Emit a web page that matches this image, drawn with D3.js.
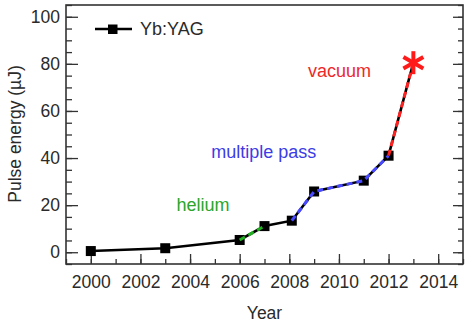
<!DOCTYPE html>
<html><head><meta charset="utf-8">
<script src="https://cdn.jsdelivr.net/npm/d3@7"></script>
<style>
html,body{margin:0;padding:0;background:#fff;}
svg{display:block;font-family:"Liberation Sans",Arial,sans-serif;}
</style></head>
<body><svg id="c" width="468" height="325"></svg>
<script>
// data
const years = [2000, 2003, 2006, 2007, 2008.1, 2009, 2011, 2012];
const energy = [0.5, 1.7, 5.2, 11.1, 13.4, 25.8, 30.4, 41];
const starYear = 2013;
const starEnergy = 80.5;
const segments = [
  {name: "helium", from: 2, to: 3, color: "#22b022"},
  {name: "multiple pass", from: 4, to: 7, color: "#4848ff"},
  {name: "vacuum", from: 7, to: 8, color: "#ff2020"}
];
const annotations = [
  {text: "helium", year: 2003.45, value: 17.5, color: "#2aa62a"},
  {text: "multiple pass", year: 2004.85, value: 40, color: "#3c3ce6"},
  {text: "vacuum", year: 2008.75, value: 74.5, color: "#ee2828"}
];
const xMajor = [2000, 2002, 2004, 2006, 2008, 2010, 2012, 2014];
const xMinor = d3.range(1999, 2016, 1);
const yMajor = [0, 20, 40, 60, 80, 100];
const yMinor = d3.range(-5, 106, 5);
const legendLabel = "Yb:YAG";

const svg = d3.select("#c");
const L = 66, R = 463, T = 5, B = 264;
const x = d3.scaleLinear().domain([1999, 2015]).range([L, R]);
const y = d3.scaleLinear().domain([-5, 105]).range([B, T]);
const fs = 17.5, fa = 18, tc = "#2a2a2a";

// minor ticks
svg.append("g").attr("transform", `translate(0,${B})`)
  .call(d3.axisBottom(x).tickValues(xMinor).tickSize(-5).tickFormat(""))
  .call(g => g.select(".domain").remove());
svg.append("g").attr("transform", `translate(${L},0)`)
  .call(d3.axisLeft(y).tickValues(yMinor).tickSize(-6).tickFormat(""))
  .call(g => g.select(".domain").remove());
svg.append("g").attr("transform", `translate(${R},0)`)
  .call(d3.axisRight(y).tickValues(yMinor).tickSize(-5).tickFormat(""))
  .call(g => g.select(".domain").remove());
// major ticks
svg.append("g").attr("transform", `translate(0,${B})`)
  .call(d3.axisBottom(x).tickValues(xMajor).tickSize(-10).tickPadding(12).tickFormat(d3.format("d")))
  .call(g => g.select(".domain").remove());
svg.append("g").attr("transform", `translate(${L},0)`)
  .call(d3.axisLeft(y).tickValues(yMajor).tickSize(-12).tickPadding(6))
  .call(g => g.select(".domain").remove());
svg.append("g").attr("transform", `translate(${R},0)`)
  .call(d3.axisRight(y).tickValues(yMajor).tickSize(-10).tickFormat(""))
  .call(g => g.select(".domain").remove());
svg.selectAll(".tick line").attr("stroke", "#333").attr("stroke-width", 1.3);
svg.selectAll(".tick text").attr("font-size", fs).attr("fill", tc).attr("font-family", "Liberation Sans, Arial, sans-serif");

// frame
svg.append("rect").attr("x", L).attr("y", T).attr("width", R - L).attr("height", B - T)
  .attr("fill", "none").attr("stroke", "#333").attr("stroke-width", 1.6);

// axis titles
svg.append("text").attr("x", (L + R) / 2).attr("y", 319).attr("text-anchor", "middle")
  .attr("font-size", fs).attr("fill", tc).text("Year");
svg.append("text").attr("transform", `translate(21,134) rotate(-90)`).attr("text-anchor", "middle")
  .attr("font-size", fs).attr("fill", tc).text("Pulse energy (µJ)");

// main line
const pts = years.map((yr, i) => [yr, energy[i]]);
const allPts = pts.concat([[starYear, starEnergy]]);
const line = d3.line().x(d => x(d[0])).y(d => y(d[1]));
svg.append("path").attr("d", line(allPts)).attr("fill", "none").attr("stroke", "#000").attr("stroke-width", 2.6);

// markers
svg.selectAll("rect.m").data(pts).enter().append("rect")
  .attr("x", d => x(d[0]) - 5).attr("y", d => y(d[1]) - 5).attr("width", 10).attr("height", 10).attr("fill", "#000");

// dashed overlays
segments.forEach(s => {
  svg.append("path").attr("d", line(allPts.slice(s.from, s.to + 1)))
    .attr("fill", "none").attr("stroke", s.color).attr("stroke-width", 3).attr("stroke-dasharray", "6,4");
});

// star
const sx = x(starYear), sy = y(starEnergy), r = 11.5;
const star = svg.append("g").attr("stroke", "#ff1a1a").attr("stroke-width", 4).attr("stroke-linecap", "butt");
[90, 30, -30].forEach(a => {
  const rad = a * Math.PI / 180;
  star.append("line").attr("x1", sx - r * Math.cos(rad)).attr("y1", sy - r * Math.sin(rad))
    .attr("x2", sx + r * Math.cos(rad)).attr("y2", sy + r * Math.sin(rad));
});

// annotations
annotations.forEach(a => {
  svg.append("text").attr("x", x(a.year)).attr("y", y(a.value)).attr("font-size", fa)
    .attr("fill", a.color).text(a.text);
});

// legend
svg.append("line").attr("x1", 95).attr("x2", 132).attr("y1", 29).attr("y2", 29).attr("stroke", "#000").attr("stroke-width", 2.6);
svg.append("rect").attr("x", 108).attr("y", 24.5).attr("width", 9.5).attr("height", 9.5).attr("fill", "#000");
svg.append("text").attr("x", 140).attr("y", 35).attr("font-size", fa).attr("fill", tc).text(legendLabel);
</script></body></html>
